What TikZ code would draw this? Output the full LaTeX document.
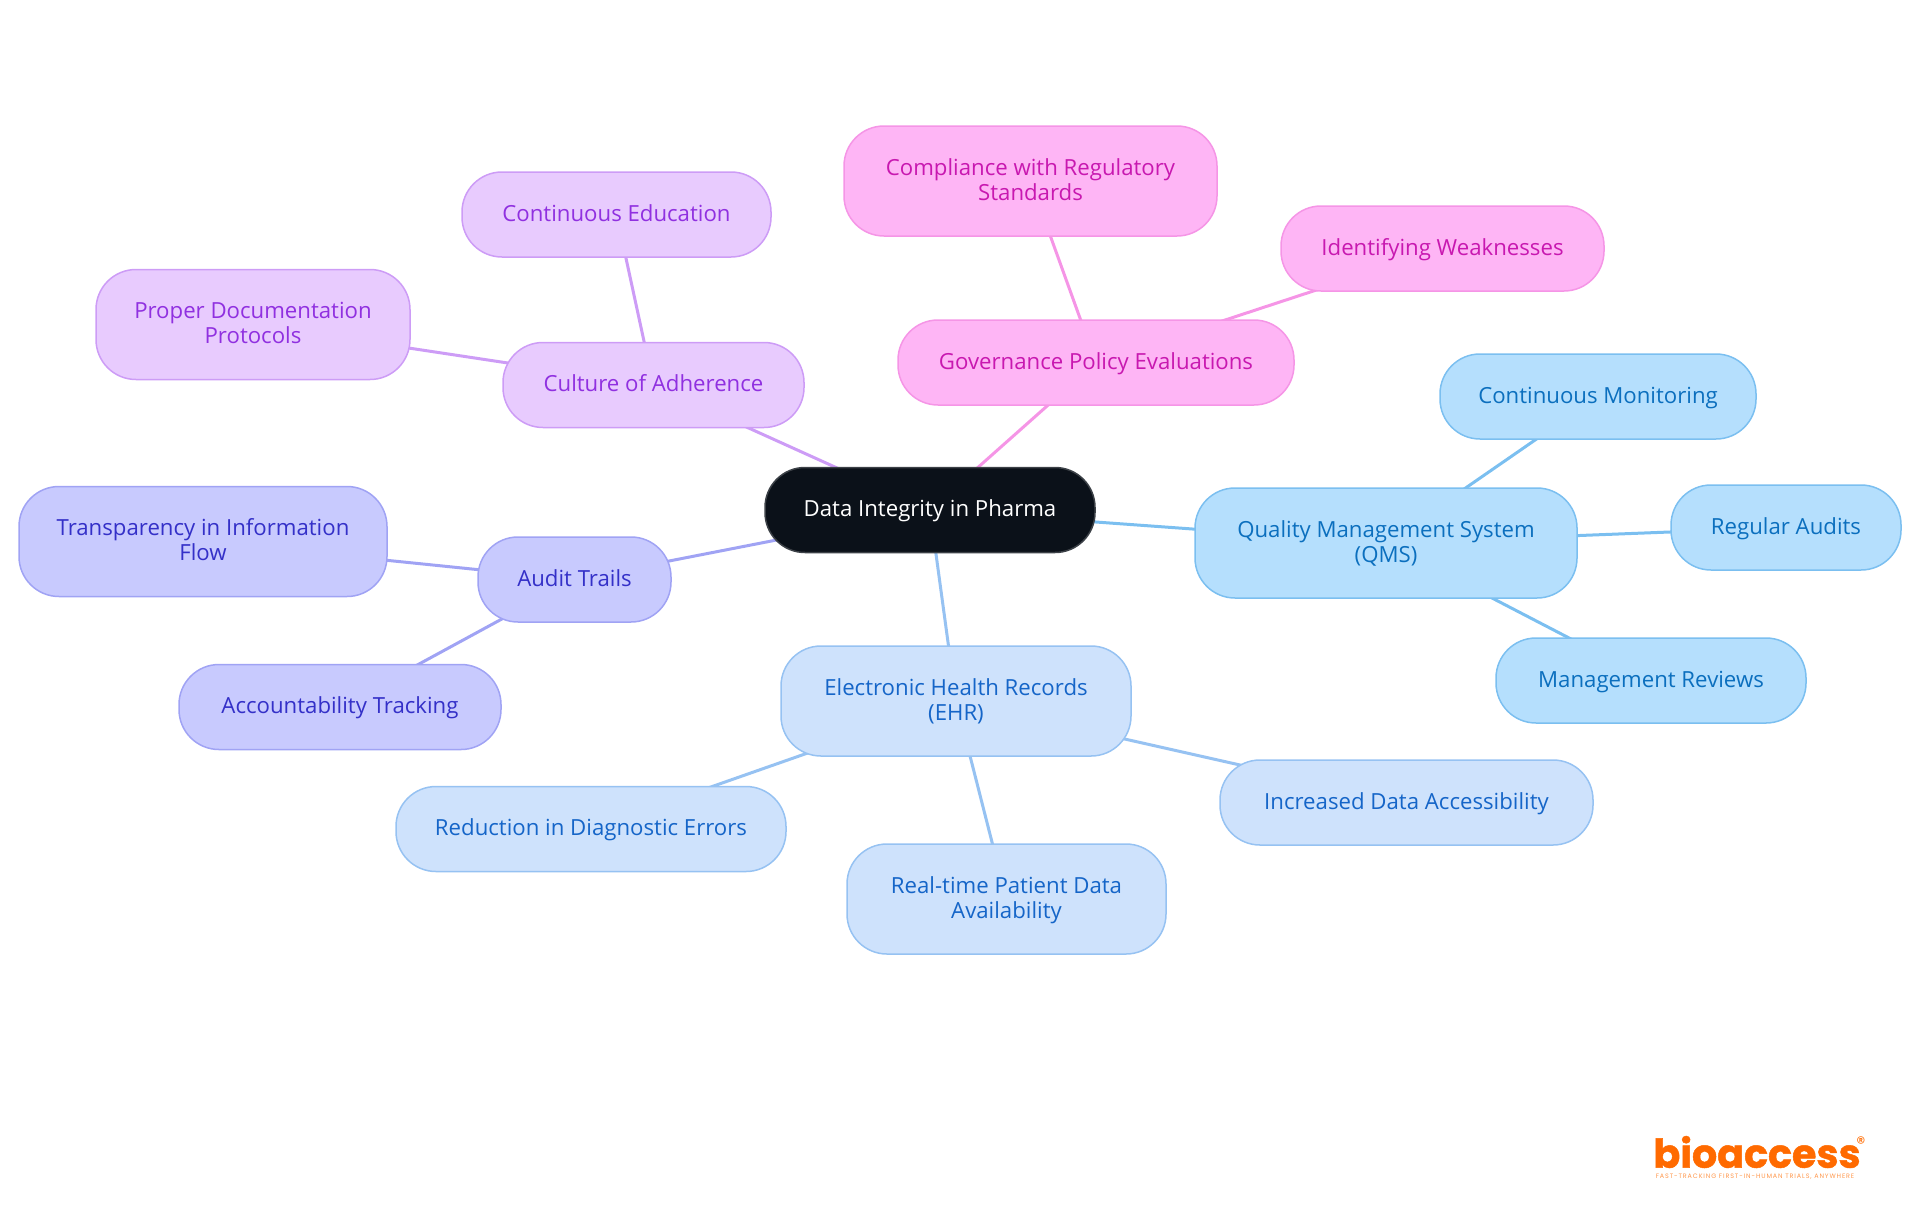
\documentclass[tikz,border=0pt]{standalone}
\usepackage{fontspec}
\setmainfont{Open Sans}
\newfontfamily\logofont[UprightFont=* Bold,FakeBold=1.2]{Poppins}
\newfontfamily\regfont{Poppins}
\newfontfamily\tagfont[LetterSpace=14]{Poppins}
\usetikzlibrary{backgrounds}
\definecolor{rootfill}{HTML}{0B1119}
\definecolor{rootline}{HTML}{3C4147}
\definecolor{purplefill}{HTML}{E8CBFE}
\definecolor{purpleline}{HTML}{CD9CF6}
\definecolor{purpletext}{HTML}{9030E0}
\definecolor{pinkfill}{HTML}{FEB5F5}
\definecolor{pinkline}{HTML}{F595E6}
\definecolor{pinktext}{HTML}{C818B0}
\definecolor{indigofill}{HTML}{C8CAFE}
\definecolor{indigoline}{HTML}{A0A3F4}
\definecolor{indigotext}{HTML}{3430C8}
\definecolor{bluefill}{HTML}{CEE2FC}
\definecolor{blueline}{HTML}{96C2F2}
\definecolor{bluetext}{HTML}{1565C8}
\definecolor{skyfill}{HTML}{B5DFFD}
\definecolor{skyline}{HTML}{7BBFF0}
\definecolor{skytext}{HTML}{0B6FBE}
\definecolor{logoorange}{HTML}{FF6A00}
\tikzstyle{bubble} = [draw,rectangle,rounded corners=20pt,line width=.75pt,inner sep=0,align=center,font=\fontsize{11.1}{12.5}\selectfont]
\tikzstyle{oneline} = [minimum height=42.5pt,text height=9pt,text depth=2.4pt]
\tikzstyle{twoline} = [minimum height=55pt,text depth=1.9pt]
\tikzstyle{rootbub} = [bubble,fill=rootfill,draw=rootline,text=white]
\tikzstyle{purplebub} = [bubble,fill=purplefill,draw=purpleline,text=purpletext]
\tikzstyle{pinkbub} = [bubble,fill=pinkfill,draw=pinkline,text=pinktext]
\tikzstyle{indigobub} = [bubble,fill=indigofill,draw=indigoline,text=indigotext]
\tikzstyle{bluebub} = [bubble,fill=bluefill,draw=blueline,text=bluetext]
\tikzstyle{skybub} = [bubble,fill=skyfill,draw=skyline,text=skytext]
\tikzstyle{link} = [-,line width=1.5pt]

\begin{document}
\begin{tikzpicture}[x=.5pt,y=-.5pt]
  \useasboundingbox (0,0) rectangle (1920,1215);
  \node[rootbub,oneline,minimum width=165pt] (root) at (930,510) {Data Integrity in Pharma};
  % purple
  \node[purplebub,oneline,minimum width=150.5pt] (culture) at (653.5,385) {Culture of Adherence};
  \node[purplebub,oneline,minimum width=154.5pt] (educ) at (616.5,214.5) {Continuous Education};
  \node[purplebub,twoline,minimum width=157pt] (docs) at (253,324.5) {Proper Documentation\\Protocols};
  % pink
  \node[pinkbub,oneline,minimum width=198pt] (gov) at (1096,362.5) {Governance Policy Evaluations};
  \node[pinkbub,twoline,minimum width=186.5pt] (comply) at (1030.5,181) {Compliance with Regulatory\\Standards};
  \node[pinkbub,oneline,minimum width=161.5pt] (weak) at (1442.5,248.5) {Identifying Weaknesses};
  % sky
  \node[skybub,twoline,minimum width=191pt] (qms) at (1386,543) {Quality Management System\\(QMS)};
  \node[skybub,oneline,minimum width=158pt] (monitor) at (1598,396.5) {Continuous Monitoring};
  \node[skybub,oneline,minimum width=115pt] (audits) at (1786,527.5) {Regular Audits};
  \node[skybub,oneline,minimum width=155pt] (reviews) at (1651,680.5) {Management Reviews};
  % blue
  \node[bluebub,twoline,minimum width=175pt] (ehr) at (956,701) {Electronic Health Records\\(EHR)};
  \node[bluebub,oneline,minimum width=186.5pt] (access) at (1406.5,802.5) {Increased Data Accessibility};
  \node[bluebub,twoline,minimum width=159.5pt] (realtime) at (1006.5,899) {Real-time Patient Data\\Availability};
  \node[bluebub,oneline,minimum width=195pt] (errors) at (591,829) {Reduction in Diagnostic Errors};
  % indigo
  \node[indigobub,oneline,minimum width=96.5pt] (trails) at (574.5,579.5) {Audit Trails};
  \node[indigobub,twoline,minimum width=184pt] (transp) at (203,541.5) {Transparency in Information\\Flow};
  \node[indigobub,oneline,minimum width=161pt] (track) at (340,707) {Accountability Tracking};
  % logo
  \node[inner sep=0,text=logoorange,font=\logofont\fontsize{19.8}{20}\selectfont] (logo) at (1757,1152) {bioaccess};
  \node[inner sep=0,text=logoorange,font=\regfont\fontsize{9}{9}\selectfont] (reg) at (1861,1143) {\textregistered};
  \node[inner sep=0,text=logoorange!70,font=\tagfont\fontsize{3.2}{3.2}\selectfont] (tagline) at (1755,1177) {FAST-TRACKING FIRST-IN-HUMAN TRIALS, ANYWHERE};
  \begin{pgfonlayer}{background}
    \draw[link,purpleline] (root.center) -- (culture.center);
    \draw[link,purpleline] (culture.center) -- (educ.center);
    \draw[link,purpleline] (culture.center) -- (docs.center);
    \draw[link,pinkline] (root.center) -- (gov.center);
    \draw[link,pinkline] (gov.center) -- (comply.center);
    \draw[link,pinkline] (gov.center) -- (weak.center);
    \draw[link,skyline] (root.center) -- (qms.center);
    \draw[link,skyline] (qms.center) -- (monitor.center);
    \draw[link,skyline] (qms.center) -- (audits.center);
    \draw[link,skyline] (qms.center) -- (reviews.center);
    \draw[link,blueline] (root.center) -- (ehr.center);
    \draw[link,blueline] (ehr.center) -- (access.center);
    \draw[link,blueline] (ehr.center) -- (realtime.center);
    \draw[link,blueline] (ehr.center) -- (errors.center);
    \draw[link,indigoline] (root.center) -- (trails.center);
    \draw[link,indigoline] (trails.center) -- (transp.center);
    \draw[link,indigoline] (trails.center) -- (track.center);
  \end{pgfonlayer}
\end{tikzpicture}
\end{document}
